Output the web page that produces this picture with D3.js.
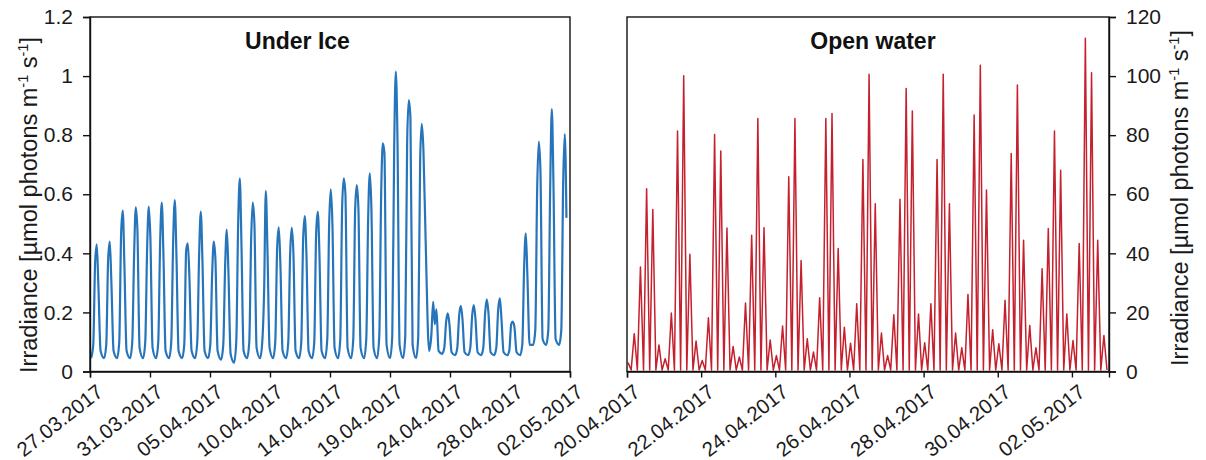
<!DOCTYPE html>
<html><head><meta charset="utf-8">
<script src="https://cdn.jsdelivr.net/npm/d3@7"></script>
<style>
html,body{margin:0;padding:0;background:#fff;}
svg{display:block;font-family:"Liberation Sans",Arial,sans-serif;}
</style></head>
<body><svg id="chart" width="1206" height="460"></svg>
<script>
// ---------- DATA ----------
const underIceTicks = ["27.03.2017","31.03.2017","05.04.2017","10.04.2017","14.04.2017","19.04.2017","24.04.2017","28.04.2017","02.05.2017"];
const openWaterTicks = ["20.04.2017","22.04.2017","24.04.2017","26.04.2017","28.04.2017","30.04.2017","02.05.2017"];
const leftYTicks = [0,0.2,0.4,0.6,0.8,1,1.2];
const rightYTicks = [0,20,40,60,80,100,120];
// Under ice: one row per daily cycle, values at the hours below (µmol photons m-1 s-1)
const underIceHours = [2, 6, 9.5, 12.5, 15.5, 19.5];
const underIce = [
  [0.045,0.09,0.37,0.43,0.29,0.07],
  [0.045,0.09,0.38,0.44,0.30,0.07],
  [0.045,0.10,0.47,0.545,0.36,0.07],
  [0.045,0.10,0.40,0.556,0.48,0.08],
  [0.045,0.10,0.42,0.558,0.45,0.08],
  [0.045,0.10,0.44,0.572,0.40,0.07],
  [0.045,0.10,0.44,0.58,0.40,0.07],
  [0.045,0.09,0.41,0.434,0.32,0.07],
  [0.045,0.10,0.40,0.541,0.38,0.07],
  [0.045,0.09,0.33,0.44,0.38,0.07],
  [0.04,0.09,0.36,0.48,0.34,0.06],
  [0.03,0.10,0.50,0.654,0.44,0.07],
  [0.045,0.10,0.45,0.572,0.50,0.08],
  [0.045,0.10,0.28,0.611,0.42,0.08],
  [0.045,0.10,0.42,0.488,0.36,0.07],
  [0.045,0.10,0.40,0.487,0.40,0.07],
  [0.045,0.10,0.45,0.526,0.40,0.07],
  [0.045,0.10,0.47,0.541,0.40,0.07],
  [0.045,0.11,0.50,0.617,0.50,0.08],
  [0.045,0.11,0.56,0.654,0.60,0.08],
  [0.045,0.11,0.55,0.631,0.55,0.08],
  [0.045,0.11,0.52,0.671,0.55,0.08],
  [0.045,0.12,0.60,0.772,0.74,0.09],
  [0.045,0.12,0.75,1.015,0.80,0.09],
  [0.045,0.12,0.78,0.919,0.86,0.09],
  [0.045,0.12,0.72,0.838,0.75,0.45],
  [0.07,0.12,0.236,0.16,0.21,0.07],
  [0.06,0.08,0.17,0.197,0.16,0.065],
  [0.055,0.08,0.19,0.222,0.18,0.065],
  [0.055,0.08,0.19,0.225,0.18,0.065],
  [0.055,0.08,0.20,0.244,0.20,0.065],
  [0.055,0.08,0.21,0.248,0.18,0.065],
  [0.055,0.07,0.16,0.169,0.15,0.065],
  [0.055,0.09,0.36,0.468,0.32,0.09],
  [0.09,0.14,0.62,0.778,0.68,0.11],
  [0.09,0.14,0.62,0.888,0.64,0.11],
  [0.09,0.14,0.64,0.804,0.52]
];
const underIceDays = 36.92;
// Open water: 2-hourly samples starting at 00:42 on 20.04.2017
const openWaterStartHour = 0.7;
const openWaterStepHours = 2;
const openWaterHours = 312;
const openWater = [
  3.0,0.5, 12.8,0.5, 35.4,0.5, 61.9,0.5, 54.8,0.5, 9.0,0.5,
  4.3,0.5, 19.8,0.5, 81.4,0.5, 100.1,0.5, 39.7,0.5, 10.3,0.5,
  3.7,0.5, 18.2,0.5, 80.2,0.5, 74.6,0.5, 48.6,0.5, 8.5,0.5,
  4.9,0.5, 23.2,0.5, 46.1,0.5, 85.6,0.5, 48.7,0.5, 10.7,0.5,
  5.4,0.5, 15.4,0.5, 65.9,0.5, 85.6,0.5, 37.6,0.5, 11.1,0.5,
  6.6,0.5, 25.0,0.5, 85.6,0.5, 87.3,0.5, 41.6,0.5, 15.0,0.5,
  9.6,0.5, 22.9,0.5, 71.8,0.5, 100.6,0.5, 56.8,0.5, 13.0,0.5,
  5.4,0.5, 19.2,0.5, 58.3,0.5, 95.8,0.5, 88.2,0.5, 19.5,0.5,
  9.7,0.5, 22.9,0.5, 71.8,0.5, 100.6,0.5, 56.8,0.5, 13.0,0.5,
  8.0,0.5, 26.1,0.5, 86.8,0.5, 103.7,0.5, 61.4,0.5, 14.1,0.5,
  9.4,0.5, 24.1,0.5, 73.8,0.5, 97.0,0.5, 44.4,0.5, 15.6,0.5,
  8.0,0.5, 34.8,0.5, 48.4,0.5, 81.4,0.5, 68.1,0.5, 19.5,0.5,
  10.5,0.5, 43.3,0.5, 112.8,0.5, 101.1,0.5, 44.4,0.5, 12.2,0.5
];

// ---------- LAYOUT ----------
const svg = d3.select("#chart");
const plotTop = 17, plotBottom = 371.5;
const L = {x0: 90, x1: 570};
const R = {x0: 627, x1: 1109};
const tickFont = 21, dateFont = 20.5;

const yL = d3.scaleLinear().domain([0,1.2]).range([plotBottom, plotTop]);
const yR = d3.scaleLinear().domain([0,120]).range([plotBottom, plotTop]);
const xL = d3.scaleLinear().domain([0, underIceDays]).range([L.x0, L.x1]);
const xR = d3.scaleLinear().domain([0, openWaterHours]).range([R.x0, R.x1]);

// data points
const leftPts = [];
underIce.forEach((row, d) => row.forEach((v, j) => leftPts.push([d + underIceHours[j]/24, v])));
const rightPts = openWater.map((v, i) => [openWaterStartHour + i*openWaterStepHours, v]);

// lines
svg.append("path").datum(leftPts)
  .attr("fill","none").attr("stroke","#2675BB").attr("stroke-width",2.2)
  .attr("stroke-linejoin","round")
  .attr("d", d3.line().x(d=>xL(d[0])).y(d=>yL(d[1])).curve(d3.curveMonotoneX));
svg.append("path").datum(rightPts)
  .attr("fill","none").attr("stroke","#C4202E").attr("stroke-width",1.5)
  .attr("stroke-linejoin","round")
  .attr("d", d3.line().x(d=>xR(d[0])).y(d=>yR(d[1])));

// frames
[L, R].forEach(p => svg.append("rect")
  .attr("x", p.x0).attr("y", plotTop).attr("width", p.x1-p.x0).attr("height", plotBottom-plotTop)
  .attr("fill","none").attr("stroke","#111").attr("stroke-width",1.4));

function styleAxis(g){
  g.select(".domain").attr("stroke","#111").attr("stroke-width",1.4);
  g.selectAll(".tick line").attr("stroke","#111").attr("stroke-width",1.4);
  g.selectAll("text").attr("fill","#1a1a1a").attr("font-family","Liberation Sans, Arial, sans-serif");
}

// left y axis
const gyL = svg.append("g").attr("transform",`translate(${L.x0},0)`)
  .call(d3.axisLeft(yL).tickValues(leftYTicks).tickSize(7).tickPadding(10).tickFormat(d3.format("~g")));
styleAxis(gyL); gyL.selectAll("text").attr("font-size", tickFont);

// right y axis
const gyR = svg.append("g").attr("transform",`translate(${R.x1},0)`)
  .call(d3.axisRight(yR).tickValues(rightYTicks).tickSize(7).tickPadding(10));
styleAxis(gyR); gyR.selectAll("text").attr("font-size", tickFont);

// bottom axes
const leftTickVals = underIceTicks.map((_, i) => i*underIceDays/(underIceTicks.length-1));
const gxL = svg.append("g").attr("transform",`translate(0,${plotBottom})`)
  .call(d3.axisBottom(xL).tickValues(leftTickVals).tickSize(6).tickFormat((d,i)=>underIceTicks[i]));
const rightTickVals = openWaterTicks.map((_, i) => i*48);
const gxR = svg.append("g").attr("transform",`translate(0,${plotBottom})`)
  .call(d3.axisBottom(xR).tickValues(rightTickVals).tickSize(6).tickFormat((d,i)=>openWaterTicks[i]));
[gxL, gxR].forEach(g => {
  styleAxis(g);
  g.selectAll("text").attr("font-size", dateFont).attr("text-anchor","end")
   .attr("x",0).attr("y",0).attr("dy",0)
   .attr("transform","translate(14,23) rotate(-38)");
});

// panel titles
svg.append("text").attr("x", 297.5).attr("y", 49).attr("text-anchor","middle")
  .attr("font-size",23).attr("font-weight","bold").attr("fill","#111").text("Under Ice");
svg.append("text").attr("x", 873).attr("y", 49).attr("text-anchor","middle")
  .attr("font-size",23).attr("font-weight","bold").attr("fill","#111").text("Open water");

// y titles
function yTitle(x, y){
  const t = svg.append("text").attr("transform",`translate(${x},${y}) rotate(-90)`)
    .attr("text-anchor","middle").attr("font-size",23.5).attr("fill","#1a1a1a");
  t.append("tspan").text("Irradiance [µmol photons m");
  t.append("tspan").attr("font-size",14.5).attr("dy",-9).text("-1");
  t.append("tspan").attr("dy",9).text(" s");
  t.append("tspan").attr("font-size",14.5).attr("dy",-9).text("-1");
  t.append("tspan").attr("dy",9).text("]");
}
yTitle(37, 205);
yTitle(1188, 198);
</script></body></html>
